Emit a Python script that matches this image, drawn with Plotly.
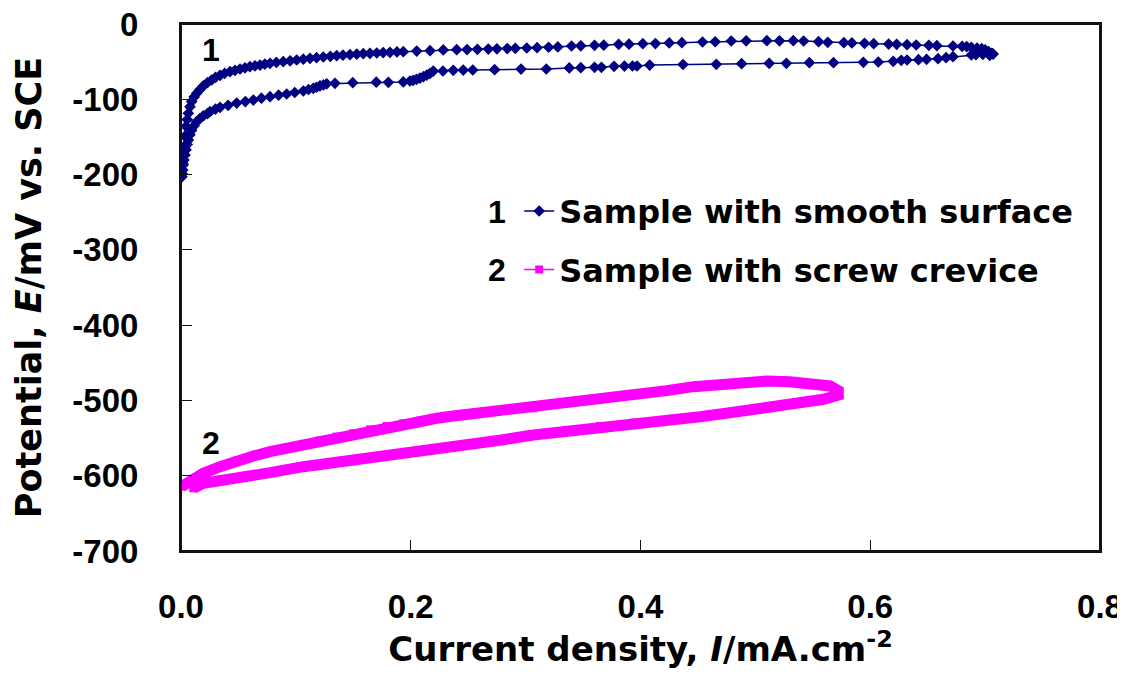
import plotly.graph_objects as go

# ---- Series 1: Sample with smooth surface (forward branch then return branch) ----
s1_fwd_x = [0.0006, 0.001, 0.0015, 0.002, 0.0026, 0.0035, 0.0044, 0.0054, 0.0064, 0.0078, 0.0093, 0.0114,
            0.0137, 0.0165, 0.0194, 0.023, 0.0267, 0.030, 0.034, 0.038, 0.0427, 0.047, 0.0514, 0.0557, 0.060,
            0.0644, 0.0688, 0.073, 0.0775, 0.083, 0.089, 0.095, 0.1007, 0.1065, 0.1123, 0.118, 0.1239, 0.13,
            0.1355, 0.141, 0.1471, 0.153, 0.1587, 0.1645, 0.1704, 0.176, 0.1819, 0.188, 0.1935, 0.2052, 0.2168,
            0.2283, 0.240, 0.249, 0.258, 0.2675, 0.275, 0.284, 0.291, 0.301, 0.310, 0.320, 0.328, 0.340, 0.348,
            0.360, 0.368, 0.381, 0.390, 0.402, 0.413, 0.425, 0.436, 0.454, 0.465, 0.479, 0.492, 0.510, 0.521,
            0.533, 0.542, 0.555, 0.563, 0.577, 0.584, 0.595, 0.603, 0.616, 0.623, 0.632, 0.640, 0.651, 0.658,
            0.672, 0.680, 0.684, 0.688, 0.693, 0.697, 0.700, 0.703, 0.706, 0.707]
s1_fwd_y = [-203, -194, -185, -174, -163, -149, -136, -127, -118.6, -110, -103, -97,
            -92, -87, -82.3, -78, -74.4, -71, -68.2, -65.5, -63.3, -61.5, -59.8, -58.2, -56.7,
            -55.5, -54.5, -53.3, -52.2, -51, -50, -48.9, -47.8, -46.7, -45.6, -44.7, -43.8, -43,
            -42.1, -41.4, -40.7, -40, -39.4, -39, -38.5, -38, -37.6, -37.1, -36.7, -35.9, -35.4,
            -34.5, -34.1, -34.0, -33.6, -33.3, -33.0, -32.6, -32.3, -31.9, -31.5, -30.9, -30.5, -29.2, -29.0,
            -28.3, -28.1, -27.0, -26.8, -26.2, -26.0, -25.2, -24.8, -23.9, -23.6, -22.6, -22.4, -22.1, -22.4,
            -22.1, -22.6, -23.5, -24.3, -24.8, -25.2, -25.7, -26.1, -26.6, -27.0, -27.4, -27.9, -28.3, -28.8,
            -29.2, -29.7, -30.1, -31.0, -31.9, -32.8, -34.5, -36.7, -39.0, -40]
s1_rev_x = [0.704, 0.698, 0.692, 0.688, 0.672, 0.666, 0.659, 0.649, 0.642, 0.632, 0.627, 0.620, 0.607,
            0.594, 0.568, 0.547, 0.527, 0.512, 0.488, 0.466, 0.437, 0.408, 0.397, 0.393, 0.386, 0.377,
            0.366, 0.360, 0.348, 0.338, 0.318, 0.296, 0.273, 0.254, 0.2457, 0.237, 0.228, 0.2196, 0.2168,
            0.214, 0.211, 0.208, 0.205, 0.202, 0.1993, 0.1935, 0.1805, 0.170, 0.1495, 0.134, 0.1268, 0.124,
            0.121, 0.118, 0.1152, 0.111, 0.1065, 0.099, 0.092, 0.085, 0.0775, 0.070, 0.063, 0.056, 0.0485,
            0.041, 0.034, 0.030, 0.0252, 0.023, 0.0194, 0.0165, 0.0137, 0.0114, 0.0093, 0.0078, 0.0064,
            0.0054, 0.0044, 0.0035, 0.0026, 0.002, 0.0015, 0.001, 0.0006]
s1_rev_y = [-41.6, -40.3, -40.7, -41.2, -43.4, -44.7, -46.0, -46.9, -47.4, -47.8, -48.2, -49.6, -50.5,
            -50.9, -51.4, -51.4, -52.2, -52.2, -52.7, -53.5, -53.8, -54.5, -55.8, -55.8, -55.9, -56.2,
            -57.5, -57.5, -58.0, -58.4, -59.8, -59.9, -60.7, -61.1, -61.2, -61.5, -62.4, -62.5, -65.5,
            -67.8, -70, -72, -73.5, -74.8, -75.7, -77, -77.5, -77.3, -77.9, -78.8, -79.5, -80.8,
            -82.3, -84, -85.4, -87, -89, -91, -93, -94.6, -96.5, -98.5, -101, -103, -105,
            -108, -110.7, -113, -116.5, -119, -122, -125.5, -129.7, -135, -141, -147, -154,
            -160, -167, -174, -180.6, -187, -194, -199, -203]

# ---- Series 2: Sample with screw crevice (forward branch then return branch) ----
s2_fwd_x = [0.0006, 0.0078, 0.0194, 0.034, 0.0485, 0.063, 0.0775, 0.092, 0.1065, 0.121, 0.1355, 0.150,
            0.1645, 0.179, 0.1935, 0.208, 0.2226, 0.237, 0.2516, 0.266, 0.279, 0.292, 0.3067, 0.3357,
            0.3647, 0.3937, 0.4228, 0.446, 0.4663, 0.4866, 0.5099, 0.530, 0.5504, 0.565, 0.5722]
s2_fwd_y = [-614.5, -607.9, -596.8, -588, -580, -573.8, -568, -563.6, -557.8, -553.4, -548, -543.6,
            -538.4, -534, -530.4, -526.9, -523.7, -520.6, -518, -515, -513.5, -511.4, -510.4, -503.8,
            -498.5, -492.8, -487, -481.7, -478.2, -476.4, -474.2, -475.1, -477.2, -480.8, -487]
s2_rev_x = [0.5722, 0.5592, 0.539, 0.510, 0.4808, 0.4518, 0.4228, 0.3937, 0.3647, 0.3357, 0.3067,
            0.279, 0.2516, 0.2226, 0.1935, 0.1645, 0.1355, 0.1065, 0.0775, 0.0485, 0.034, 0.0194,
            0.0137, 0.0107]
s2_rev_y = [-492.8, -498.5, -503.8, -510.4, -515.7, -521.6, -526, -529.5, -534, -539.3, -545.9,
            -552.5, -557.8, -563.6, -569.4, -575.5, -581.3, -588, -596, -602, -605.6, -610,
            -614.5, -616.7]

s1_x = s1_fwd_x + s1_rev_x
s1_y = s1_fwd_y + s1_rev_y
s2_x = s2_fwd_x + s2_rev_x
s2_y = s2_fwd_y + s2_rev_y

series_names = ["Sample with smooth surface", "Sample with screw crevice"]
x_ticks = [0.0, 0.2, 0.4, 0.6, 0.8]
y_ticks = [0, -100, -200, -300, -400, -500, -600, -700]

NAVY = "#000080"
MAGENTA = "#FF00FF"
ARIAL = "Liberation Sans, Arial, sans-serif"
WIDE = "DejaVu Sans, sans-serif"

fig = go.Figure()
# thick underlay for the densely sampled crevice curve
fig.add_trace(go.Scatter(x=s2_x, y=s2_y, mode="lines", line=dict(color=MAGENTA, width=11),
                         showlegend=False, hoverinfo="skip"))
fig.add_trace(go.Scatter(x=s1_x, y=s1_y, mode="lines+markers", name="<b>" + series_names[0] + "</b>",
                         line=dict(color=NAVY, width=1.5),
                         marker=dict(symbol="diamond", size=9, color=NAVY),
                         legendgroup="a"))
fig.add_trace(go.Scatter(x=s2_x, y=s2_y, mode="lines+markers", name="<b>" + series_names[1] + "</b>",
                         line=dict(color=MAGENTA, width=1.5),
                         marker=dict(symbol="square", size=8, color=MAGENTA),
                         legendgroup="b"))

axis_common = dict(showline=True, linecolor="#111111", linewidth=2, mirror=True,
                   ticks="inside", ticklen=11, tickwidth=1, tickcolor="#111111",
                   showgrid=False, zeroline=False, automargin=False, ticklabeloverflow="allow",
                   tickfont=dict(family=ARIAL, size=33, color="black", weight="bold"))

fig.update_xaxes(range=[0, 0.8], tickvals=x_ticks, ticktext=["<b>%.1f</b>" % v for v in x_ticks],
                 ticklabelstandoff=25,
                 title=dict(text="<b>Current density, <i>I</i>/mA.cm<sup>-2</sup></b>",
                            font=dict(family=WIDE, size=34, color="black"), standoff=4),
                 **axis_common)
fig.update_yaxes(range=[-700, 0], tickvals=y_ticks, ticktext=["<b>%d</b>" % v for v in y_ticks],
                 ticklabelstandoff=34,
                 title=dict(text="<b>Potential, <i>E</i>/mV vs. SCE</b>",
                            font=dict(family=WIDE, size=35, color="black"), standoff=20),
                 **axis_common)

# plot-area frame
fig.add_shape(type="rect", xref="paper", yref="paper", x0=0, y0=0, x1=1, y1=1,
              line=dict(color="#111111", width=2), fillcolor="rgba(0,0,0,0)", layer="above")

fig.add_annotation(x=0.026, y=-34.5, text="<b>1</b>", showarrow=False, xref="x", yref="y",
                   font=dict(family=ARIAL, size=32, color="black"))
fig.add_annotation(x=0.026, y=-556, text="<b>2</b>", showarrow=False, xref="x", yref="y",
                   font=dict(family=ARIAL, size=32, color="black"))
# number prefixes in the legend
fig.add_annotation(x=0.344, y=0.643, text="<b>1</b>", showarrow=False, xref="paper", yref="paper",
                   font=dict(family=ARIAL, size=32, color="black"))
fig.add_annotation(x=0.344, y=0.533, text="<b>2</b>", showarrow=False, xref="paper", yref="paper",
                   font=dict(family=ARIAL, size=32, color="black"))

# the page adds an 8px body margin, so offset the figure margins to land the plot area in place
fig.update_layout(
    width=1125, height=674,
    margin=dict(l=173, r=33, t=16, b=131, autoexpand=False),
    paper_bgcolor="white", plot_bgcolor="white",
    showlegend=True,
    legend=dict(x=0.368, y=0.697, xanchor="left", yanchor="top",
                bgcolor="rgba(0,0,0,0)", borderwidth=0, tracegroupgap=14,
                font=dict(family=WIDE, size=32, color="black")),
)

fig.write_html("out.html")
